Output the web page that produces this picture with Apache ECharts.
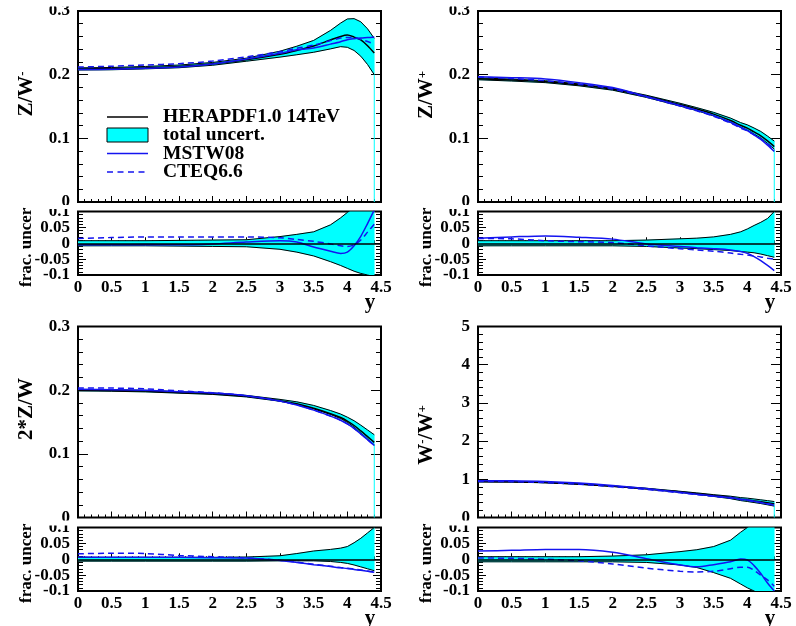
<!DOCTYPE html>
<html><head><meta charset="utf-8">
<script src="https://cdn.jsdelivr.net/npm/echarts@6/dist/echarts.min.js"></script>
<style>html,body{margin:0;padding:0;background:#fff}#c{width:796px;height:626px}</style>
</head><body><div id="c"></div>
<script>
// ---------- data ----------
const X = [0,0.5,1,1.5,2,2.5,3,3.25,3.5,3.75,3.9,4.0,4.1,4.2,4.3,4.4];
const xTicks = [0,0.5,1,1.5,2,2.5,3,3.5,4,4.5];
const yTicksZ = [0,0.1,0.2,0.3];
const yTicksWW = [0,1,2,3,4,5];
const yTicksRatio = [-0.1,-0.05,0,0.05,0.1];
const seriesNames = ['HERAPDF1.0 14TeV','total uncert.','MSTW08','CTEQ6.6'];

// Z/W-
const zwmCentral = [0.209,0.2095,0.211,0.213,0.217,0.2235,0.232,0.238,0.245,0.2545,0.260,0.2622,0.259,0.2545,0.2455,0.234];
const zwmUpper   = [0.2107,0.2113,0.2129,0.2151,0.2192,0.2259,0.2369,0.2447,0.2538,0.2695,0.281,0.2875,0.288,0.283,0.272,0.257];
const zwmLower   = [0.2073,0.2077,0.2091,0.2109,0.2148,0.2211,0.2276,0.2313,0.2352,0.2405,0.2440,0.2430,0.238,0.229,0.216,0.200];
const zwmMSTW    = [0.208,0.2085,0.2102,0.212,0.2168,0.2245,0.2335,0.239,0.242,0.248,0.2518,0.255,0.2565,0.2575,0.2582,0.259];
const zwmCTEQ    = [0.212,0.2133,0.2152,0.2173,0.2213,0.228,0.236,0.2415,0.2465,0.2535,0.2575,0.2585,0.258,0.2555,0.252,0.248];
const zwmRUp     = [0.008,0.008,0.008,0.009,0.01,0.011,0.021,0.028,0.036,0.058,0.08,0.097,0.112,0.12,0.125,0.13];
const zwmRLo     = [-0.008,-0.008,-0.008,-0.009,-0.01,-0.011,-0.019,-0.028,-0.04,-0.058,-0.07,-0.079,-0.088,-0.095,-0.1,-0.105];
const zwmRMSTW   = [-0.005,-0.005,-0.004,-0.005,-0.002,0.004,0.008,0.004,-0.012,-0.025,-0.032,-0.028,-0.008,0.022,0.062,0.105];
const zwmRCTEQ   = [0.015,0.018,0.02,0.02,0.02,0.02,0.017,0.012,0.006,-0.002,-0.008,-0.01,-0.005,0.01,0.035,0.06];

// Z/W+
const zwpCentral = [0.1935,0.1915,0.189,0.184,0.177,0.166,0.153,0.146,0.138,0.128,0.1205,0.116,0.110,0.104,0.096,0.087];
const zwpUpper   = [0.195,0.193,0.1905,0.1855,0.1785,0.1677,0.1551,0.1482,0.1408,0.1318,0.1247,0.1212,0.1162,0.1108,0.1035,0.0957];
const zwpLower   = [0.1920,0.1900,0.1875,0.1825,0.1756,0.1643,0.1507,0.1435,0.1352,0.1250,0.1174,0.1128,0.1067,0.1004,0.0920,0.0832];
const zwpMSTW    = [0.1966,0.1953,0.1933,0.1875,0.1797,0.1657,0.1515,0.144,0.1357,0.1253,0.1174,0.1123,0.1054,0.0983,0.0893,0.0795];
const zwpCTEQ    = [0.1964,0.194,0.1905,0.1851,0.1775,0.165,0.1506,0.1431,0.1346,0.124,0.1163,0.1117,0.1056,0.0995,0.0915,0.0827];
const zwpRUp     = [0.008,0.008,0.008,0.008,0.008,0.01,0.014,0.016,0.02,0.028,0.036,0.045,0.056,0.066,0.078,0.1];
const zwpRLo     = [-0.008,-0.008,-0.008,-0.008,-0.008,-0.01,-0.015,-0.017,-0.02,-0.023,-0.026,-0.028,-0.03,-0.034,-0.039,-0.044];
const zwpRMSTW   = [0.016,0.02,0.023,0.019,0.013,-0.002,-0.01,-0.014,-0.017,-0.021,-0.026,-0.032,-0.042,-0.055,-0.07,-0.086];
const zwpRCTEQ   = [0.015,0.014,0.008,0.005,0.002,-0.008,-0.017,-0.021,-0.025,-0.031,-0.035,-0.037,-0.04,-0.043,-0.047,-0.05];

// 2*Z/W
const z2Central = [0.2000,0.1995,0.1985,0.1965,0.1945,0.1905,0.1835,0.1785,0.1715,0.163,0.157,0.1515,0.1445,0.136,0.127,0.118];
const z2Upper   = [0.2012,0.2007,0.1997,0.1977,0.1957,0.1918,0.1855,0.1817,0.176,0.168,0.1625,0.1576,0.152,0.145,0.1375,0.130];
const z2Lower   = [0.1988,0.1983,0.1973,0.1953,0.1933,0.1894,0.1826,0.1776,0.1706,0.1619,0.1554,0.1495,0.1419,0.1327,0.1232,0.1138];
const z2MSTW    = [0.2014,0.2007,0.1997,0.1977,0.1955,0.1913,0.1828,0.1767,0.1686,0.1593,0.1528,0.1471,0.1399,0.1312,0.1222,0.1132];
const z2CTEQ    = [0.2034,0.2033,0.2021,0.1989,0.196,0.1913,0.1829,0.1769,0.1688,0.1594,0.1529,0.1472,0.1400,0.1314,0.1223,0.1133];
const z2RUp     = [0.006,0.006,0.006,0.006,0.006,0.007,0.011,0.018,0.026,0.031,0.035,0.04,0.052,0.066,0.083,0.1];
const z2RLo     = [-0.006,-0.006,-0.006,-0.006,-0.006,-0.006,-0.005,-0.005,-0.005,-0.007,-0.01,-0.013,-0.018,-0.024,-0.03,-0.036];
const z2RMSTW   = [0.007,0.006,0.006,0.006,0.005,0.004,-0.004,-0.01,-0.017,-0.023,-0.027,-0.029,-0.032,-0.035,-0.038,-0.041];
const z2RCTEQ   = [0.017,0.019,0.018,0.012,0.008,0.004,-0.003,-0.009,-0.016,-0.022,-0.026,-0.028,-0.031,-0.034,-0.037,-0.04];

// W-/W+
const wwCentral = [0.94,0.935,0.915,0.875,0.82,0.755,0.67,0.625,0.575,0.525,0.48,0.46,0.435,0.41,0.385,0.36];
const wwUpper   = [0.947,0.942,0.922,0.882,0.828,0.766,0.686,0.644,0.598,0.557,0.521,0.506,0.485,0.463,0.441,0.418];
const wwLower   = [0.932,0.927,0.908,0.868,0.813,0.747,0.657,0.609,0.551,0.494,0.443,0.419,0.392,0.365,0.332,0.299];
const wwMSTW    = [0.964,0.961,0.943,0.902,0.838,0.757,0.658,0.610,0.565,0.521,0.48,0.459,0.426,0.392,0.356,0.324];
const wwCTEQ    = [0.943,0.938,0.915,0.871,0.808,0.734,0.645,0.600,0.553,0.509,0.468,0.449,0.42,0.39,0.36,0.33];
const wwRUp     = [0.008,0.008,0.008,0.008,0.01,0.014,0.024,0.03,0.04,0.06,0.085,0.1,0.115,0.13,0.145,0.16];
const wwRLo     = [-0.008,-0.008,-0.008,-0.008,-0.008,-0.01,-0.018,-0.026,-0.042,-0.06,-0.078,-0.09,-0.1,-0.11,-0.14,-0.17];
const wwRMSTW   = [0.026,0.028,0.031,0.031,0.022,0.002,-0.018,-0.024,-0.017,-0.008,0.001,-0.002,-0.02,-0.045,-0.075,-0.1];
const wwRCTEQ   = [0.004,0.003,0.0,-0.005,-0.015,-0.028,-0.038,-0.04,-0.038,-0.03,-0.025,-0.025,-0.035,-0.05,-0.065,-0.085];

// ---------- layout ----------
const FONT = '"Liberation Serif", "Times New Roman", serif';
const BLUE = '#1414f0';
const CYAN = '#00ffff';
const colLeft = [78, 478];
const plotW = 303;
const rows = [ {mainTop:11, mainH:191, ratTop:211.5, ratH:63.5},
               {mainTop:326.5, mainH:191, ratTop:527.5, ratH:63.5} ];

const panels = [
  {main:{c:zwmCentral,up:zwmUpper,lo:zwmLower,m:zwmMSTW,q:zwmCTEQ}, ratio:{up:zwmRUp,lo:zwmRLo,m:zwmRMSTW,q:zwmRCTEQ}, yTicks:yTicksZ},
  {main:{c:zwpCentral,up:zwpUpper,lo:zwpLower,m:zwpMSTW,q:zwpCTEQ}, ratio:{up:zwpRUp,lo:zwpRLo,m:zwpRMSTW,q:zwpRCTEQ}, yTicks:yTicksZ},
  {main:{c:z2Central,up:z2Upper,lo:z2Lower,m:z2MSTW,q:z2CTEQ}, ratio:{up:z2RUp,lo:z2RLo,m:z2RMSTW,q:z2RCTEQ}, yTicks:yTicksZ},
  {main:{c:wwCentral,up:wwUpper,lo:wwLower,m:wwMSTW,q:wwCTEQ}, ratio:{up:wwRUp,lo:wwRLo,m:wwRMSTW,q:wwRCTEQ}, yTicks:yTicksWW}
];

const grids = [], xAxes = [], yAxes = [], series = [];
const pts = arr => X.map((x,i)=>[x, arr[i]]);
const labelStyle = {color:'#000', fontFamily:FONT, fontWeight:'bold', fontSize:17};
const isTenth = v => Math.abs(v*10 - Math.round(v*10)) < 1e-6;

// returns index of the y axis that carries the series
function addAxes(g, ticks, isRatio){
  xAxes.push({type:'value', gridIndex:g, min:xTicks[0], max:xTicks[xTicks.length-1], interval:xTicks[1]-xTicks[0],
    axisLine:{show:false}, splitLine:{show:false},
    axisTick:{show:true, inside:true, length:6, lineStyle:{color:'#000', width:1}},
    minorTick:{show:true, splitNumber:5, length:3, lineStyle:{color:'#000', width:1}},
    axisLabel:Object.assign({show:isRatio, margin:4, showMinLabel:true, showMaxLabel:true, hideOverlap:false}, labelStyle)});
  const common = {type:'value', gridIndex:g, min:ticks[0], max:ticks[ticks.length-1], interval:ticks[1]-ticks[0],
    axisLine:{show:false}, splitLine:{show:false}};
  const tk = isRatio ? {major:8, minor:5} : {major:10, minor:5};
  const mainIdx = yAxes.length;
  yAxes.push(Object.assign({}, common, {position:'left',
    axisTick:{show:true, inside:true, length:tk.major, lineStyle:{color:'#000', width:1}},
    minorTick:{show:true, splitNumber:5, length:tk.minor, lineStyle:{color:'#000', width:1}},
    axisLabel:Object.assign({show:true, margin:8, showMinLabel:true, showMaxLabel:true, hideOverlap:false,
      formatter: isRatio ? (v => isTenth(v) ? String(+v.toFixed(2)) : '') : null}, labelStyle)}));
  yAxes.push(Object.assign({}, common, {position:'right',
    axisTick:{show:true, inside:true, length:tk.major, lineStyle:{color:'#000', width:1}},
    minorTick:{show:true, splitNumber:5, length:tk.minor, lineStyle:{color:'#000', width:1}},
    axisLabel:{show:false}}));
  if (isRatio) {
    // second label layer for the in-between ticks (keeps every label visible)
    yAxes.push(Object.assign({}, common, {position:'left', offset:0,
      axisTick:{show:false}, minorTick:{show:false},
      axisLabel:Object.assign({show:true, margin:8, showMinLabel:true, showMaxLabel:true, hideOverlap:false,
        formatter: v => isTenth(v) ? '' : String(+v.toFixed(2))}, labelStyle)}));
  }
  return mainIdx;
}

function lineS(name, g, yi, data, color, width, type, z, smooth){
  return {type:'line', name:name, xAxisIndex:g, yAxisIndex:yi, data:pts(data), symbol:'none',
    smooth:smooth, lineStyle:{color:color, width:width, type:type}, itemStyle:{color:color}, z:z, silent:true};
}
function bandFill(g, yi, lo, up){
  return {type:'custom', name:seriesNames[1], xAxisIndex:g, yAxisIndex:yi, silent:true, z:1,
    data:X.map((x,i)=>[x, lo[i], up[i]]),
    encode:{x:0, y:[1,2]},
    renderItem:function(params, api){
      if (params.dataIndex !== 0) return null;
      const upperPts = X.map((x,i)=>api.coord([x, up[i]]));
      const lowerPts = X.map((x,i)=>api.coord([x, lo[i]])).reverse();
      const cs = params.coordSys;
      return {type:'polygon', shape:{points:upperPts.concat(lowerPts)}, style:{fill:CYAN, stroke:CYAN, lineWidth:0.5},
        clipPath:{type:'rect', shape:{x:cs.x, y:cs.y, width:cs.width, height:cs.height}}};
    }};
}

panels.forEach((p, k) => {
  const r = rows[k>>1], left = colLeft[k&1];
  const gm = 2*k, gr = 2*k+1;
  grids.push({left:left, top:r.mainTop, width:plotW, height:r.mainH, show:true, borderColor:'#000', borderWidth:2, backgroundColor:'transparent'});
  grids.push({left:left, top:r.ratTop, width:plotW, height:r.ratH, show:true, borderColor:'#000', borderWidth:2, backgroundColor:'transparent'});
  const ym = addAxes(gm, p.yTicks, false);
  const yr = addAxes(gr, yTicksRatio, true);
  // main
  const lastX = X[X.length-1], lastLo = p.main.lo[p.main.lo.length-1];
  series.push({type:'line', name:'edge', xAxisIndex:gm, yAxisIndex:ym, data:[[lastX, p.yTicks[0]],[lastX, lastLo]],
    symbol:'none', lineStyle:{color:CYAN, width:1}, z:1, silent:true});
  series.push(bandFill(gm, ym, p.main.lo, p.main.up));
  series.push(lineS('band-lower', gm, ym, p.main.lo, '#000', 1, 'solid', 2, false));
  series.push(lineS('band-upper', gm, ym, p.main.up, '#000', 1, 'solid', 2, false));
  series.push(lineS(seriesNames[0], gm, ym, p.main.c, '#000', 1.5, 'solid', 3, 0.3));
  series.push(lineS(seriesNames[2], gm, ym, p.main.m, BLUE, 1.5, 'solid', 4, 0.3));
  series.push(lineS(seriesNames[3], gm, ym, p.main.q, BLUE, 1.5, [6,4], 4, 0.3));
  // ratio
  series.push(bandFill(gr, yr, p.ratio.lo, p.ratio.up));
  series.push(lineS('band-lower', gr, yr, p.ratio.lo, '#000', 1, 'solid', 2, false));
  series.push(lineS('band-upper', gr, yr, p.ratio.up, '#000', 1, 'solid', 2, false));
  const ms = lineS(seriesNames[2], gr, yr, p.ratio.m, BLUE, 1.5, 'solid', 4, 0.3);
  ms.markLine = {silent:true, symbol:'none', label:{show:false}, lineStyle:{color:'#000', width:1.5, type:'solid'}, data:[{yAxis:0}]};
  series.push(ms);
  series.push(lineS(seriesNames[3], gr, yr, p.ratio.q, BLUE, 1.5, [6,4], 4, 0.3));
});

// ---------- text / decorations ----------
const nameRich = {a:{fontFamily:FONT, fontWeight:'bold', fontSize:21, fill:'#000', lineHeight:22},
                  s:{fontFamily:FONT, fontWeight:'bold', fontSize:13, fill:'#000', verticalAlign:'top', lineHeight:22}};
function rotText(x, y, text){
  return {type:'text', x:x, y:y, rotation:Math.PI/2, z:100,
    style:{text:text, rich:nameRich, align:'center', verticalAlign:'middle', fill:'#000',
           fontFamily:FONT, fontWeight:'bold', fontSize:21}};
}
function ratioName(x, y){
  return {type:'text', x:x, y:y, rotation:Math.PI/2, z:100,
    style:{text:'frac. uncert', align:'left', verticalAlign:'middle', fill:'#000',
           fontFamily:FONT, fontWeight:'bold', fontSize:17}};
}
function whiteRect(x,y,w,h){ return {type:'rect', z:200, shape:{x:x,y:y,width:w,height:h}, style:{fill:'#fff'}}; }
function txt(x,y,t,size,align){ return {type:'text', x:x, y:y, z:100, style:{text:t, align:align, verticalAlign:'middle', fill:'#000', fontFamily:FONT, fontWeight:'bold', fontSize:size}}; }
function seg(x1,y1,x2,y2,color,w,dash){ return {type:'line', z:100, shape:{x1:x1,y1:y1,x2:x2,y2:y2}, style:{stroke:color, lineWidth:w, lineDash:dash||null}}; }

const legendX = 107, legendW = 41, legendTextX = 163;
const legendRows = [117, 135, 153.5, 172];
const graphics = [
  rotText(27, 94, '{a|Z/W}{s|-}'),
  rotText(427, 95, '{a|Z/W}{s|+}'),
  rotText(27, 409, '{a|2*Z/W}'),
  rotText(427, 435, '{a|W}{s|-}{a|/W}{s|+}'),
  ratioName(27, 287), ratioName(427, 287), ratioName(27, 603), ratioName(427, 603),
  whiteRect(10, 186, 32, 21.5), whiteRect(410, 186, 32, 21.5),
  whiteRect(10, 502, 32, 21.5), whiteRect(410, 502, 32, 21.5),
  whiteRect(30, 0, 46, 6.5), whiteRect(430, 0, 46, 6.5),
  whiteRect(30, 205, 46, 4), whiteRect(430, 205, 46, 4),
  whiteRect(30, 520.5, 46, 5), whiteRect(430, 520.5, 46, 5),
  txt(370, 303, 'y', 21, 'center'), txt(770, 303, 'y', 21, 'center'),
  txt(370, 619, 'y', 21, 'center'), txt(770, 619, 'y', 21, 'center'),
  // legend
  seg(legendX, legendRows[0], legendX+legendW, legendRows[0], '#000', 1.5),
  {type:'rect', z:100, shape:{x:legendX, y:legendRows[1]-7, width:legendW, height:14}, style:{fill:CYAN, stroke:'#000', lineWidth:1}},
  seg(legendX, legendRows[2], legendX+legendW, legendRows[2], BLUE, 1.5),
  seg(legendX, legendRows[3], legendX+legendW, legendRows[3], BLUE, 1.5, [6,4.5]),
  txt(legendTextX, legendRows[0], seriesNames[0], 19.5, 'left'),
  txt(legendTextX, legendRows[1], seriesNames[1], 19.5, 'left'),
  txt(legendTextX, legendRows[2], seriesNames[2], 19.5, 'left'),
  txt(legendTextX, legendRows[3], seriesNames[3], 19.5, 'left')
];

const chart = echarts.init(document.getElementById('c'), null, {renderer:'canvas'});
chart.setOption({
  animation:false,
  backgroundColor:'#fff',
  grid:grids, xAxis:xAxes, yAxis:yAxes, series:series,
  graphic:{elements:graphics}
});
</script></body></html>
